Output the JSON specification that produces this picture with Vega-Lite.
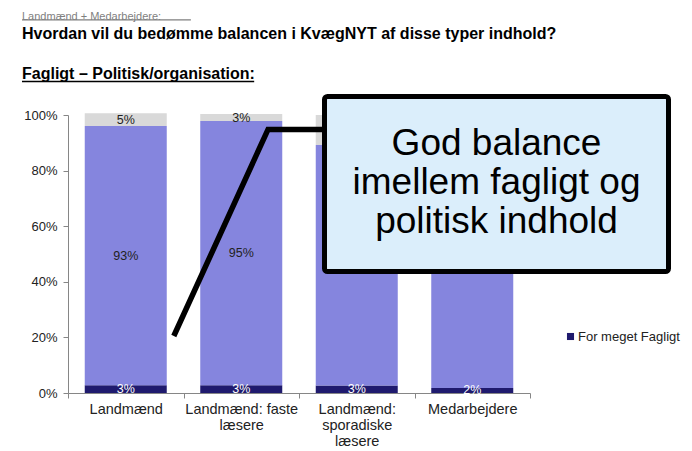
{
  "$schema": "https://vega.github.io/schema/vega-lite/v6.json",
  "width": 462,
  "height": 278,
  "autosize": {"type": "none"},
  "padding": {"left": 68, "top": 115, "right": 162, "bottom": 58},
  "background": "white",
  "config": {
    "view": {"stroke": null},
    "font": "Liberation Sans",
    "axis": {"domainColor": "#868686", "tickColor": "#868686", "labelColor": "#222222", "labelFont": "Liberation Sans", "grid": false}
  },
  "title": {
    "text": "Landmænd + Medarbejdere:",
    "subtitle": ["Hvordan vil du bedømme balancen i KvægNYT af disse typer indhold?", "Fagligt – Politisk/organisation:"],
    "anchor": "start",
    "frame": "group",
    "dx": -46,
    "offset": -63,
    "font": "Liberation Sans",
    "fontSize": 11,
    "fontWeight": "normal",
    "color": "#7f7f7f",
    "subtitleFont": "Liberation Sans",
    "subtitleFontSize": 16,
    "subtitleFontWeight": "bold",
    "subtitleColor": "#000000",
    "subtitleLineHeight": 40,
    "subtitlePadding": 4
  },
  "datasets": {
    "bars": [
      {"group": "Landmænd", "series": "For meget Fagligt", "k": 1, "v": 0.028},
      {"group": "Landmænd", "series": "God balance", "k": 2, "v": 0.932},
      {"group": "Landmænd", "series": "For meget Politik/organisation", "k": 3, "v": 0.046},
      {"group": "Landmænd: faste læsere", "series": "For meget Fagligt", "k": 1, "v": 0.028},
      {"group": "Landmænd: faste læsere", "series": "God balance", "k": 2, "v": 0.95},
      {"group": "Landmænd: faste læsere", "series": "For meget Politik/organisation", "k": 3, "v": 0.026},
      {"group": "Landmænd: sporadiske læsere", "series": "For meget Fagligt", "k": 1, "v": 0.027},
      {"group": "Landmænd: sporadiske læsere", "series": "God balance", "k": 2, "v": 0.865},
      {"group": "Landmænd: sporadiske læsere", "series": "For meget Politik/organisation", "k": 3, "v": 0.108},
      {"group": "Medarbejdere", "series": "For meget Fagligt", "k": 1, "v": 0.018},
      {"group": "Medarbejdere", "series": "God balance", "k": 2, "v": 0.91},
      {"group": "Medarbejdere", "series": "For meget Politik/organisation", "k": 3, "v": 0.072}
    ],
    "connector": [
      {"px": 22.9, "py": 0.205, "step": 1},
      {"px": 43.3, "py": 0.948, "step": 2},
      {"px": 55.5, "py": 0.948, "step": 3}
    ],
    "callout": [
      {"px": 55.52, "px2": 129.98, "py": 1.0665, "py2": 0.437, "note": "God balance\nimellem fagligt og\npolitisk indhold", "cx": 92.75, "cy": 0.897}
    ],
    "underlines": [
      {"px": -9.96, "px2": 26.6, "py": 1.342, "kind": "sub"},
      {"px": -9.96, "px2": 40.3, "py": 1.1205, "kind": "head"}
    ]
  },
  "layer": [
    {
      "data": {"name": "bars"},
      "layer": [
        {
          "mark": {"type": "bar", "width": {"band": 0.71}},
          "encoding": {
            "x": {
              "field": "group", "type": "nominal", "sort": null,
              "scale": {"paddingInner": 0, "paddingOuter": 0},
              "axis": {
                "title": null, "labelAngle": 0, "labelFontSize": 14.5, "labelLineHeight": 16,
                "labelPadding": 4, "tickSize": 5, "tickBand": "extent", "labelBaseline": "top",
                "labelExpr": "datum.value == 'Landmænd: faste læsere' ? ['Landmænd: faste','læsere'] : datum.value == 'Landmænd: sporadiske læsere' ? ['Landmænd:','sporadiske','læsere'] : datum.value"
              }
            },
            "y": {
              "field": "v", "type": "quantitative", "stack": "zero",
              "scale": {"domain": [0, 1], "nice": false},
              "axis": {"title": null, "format": ".0%", "values": [0, 0.2, 0.4, 0.6, 0.8, 1], "labelFontSize": 13, "tickSize": 5, "labelPadding": 6}
            },
            "order": {"field": "k", "type": "quantitative"},
            "color": {
              "field": "series", "type": "nominal",
              "scale": {"domain": ["For meget Fagligt", "God balance", "For meget Politik/organisation"], "range": ["#1f1a6e", "#8585de", "#d9d9d9"]},
              "legend": {
                "values": ["For meget Fagligt"], "title": null, "orient": "none", "legendX": 496, "legendY": 215,
                "symbolType": "square", "symbolSize": 50, "symbolStrokeWidth": 0, "labelFontSize": 13, "labelColor": "#222222",
                "labelOffset": 1, "padding": 0
              }
            }
          }
        },
        {
          "mark": {"type": "text", "fontSize": 12.5, "font": "Liberation Sans", "baseline": "middle"},
          "encoding": {
            "x": {"field": "group", "type": "nominal", "sort": null},
            "y": {"field": "v", "type": "quantitative", "stack": "zero", "bandPosition": 0.5},
            "order": {"field": "k", "type": "quantitative"},
            "text": {"field": "v", "type": "quantitative", "format": ".0%"},
            "color": {"condition": {"test": "datum.series === 'For meget Fagligt'", "value": "#ffffff"}, "value": "#222222"}
          }
        }
      ]
    },
    {
      "layer": [
        {
          "data": {"name": "connector"},
          "mark": {"type": "line", "color": "#000000", "strokeWidth": 5.5, "strokeCap": "butt", "strokeJoin": "miter"},
          "encoding": {
            "x": {"field": "px", "type": "quantitative", "scale": {"domain": [0, 100], "nice": false, "zero": false}, "axis": null},
            "y": {"field": "py", "type": "quantitative"},
            "order": {"field": "step", "type": "quantitative"}
          }
        },
        {
          "data": {"name": "callout"},
          "mark": {"type": "rect", "fill": "#dbeefb", "stroke": "#000000", "strokeWidth": 5, "cornerRadius": 3},
          "encoding": {
            "x": {"field": "px", "type": "quantitative"},
            "x2": {"field": "px2"},
            "y": {"field": "py", "type": "quantitative"},
            "y2": {"field": "py2"}
          }
        },
        {
          "data": {"name": "callout"},
          "mark": {"type": "text", "fontSize": 37, "font": "Liberation Sans", "lineHeight": 39, "lineBreak": "\n", "align": "center", "baseline": "middle", "color": "#000000"},
          "encoding": {
            "x": {"field": "cx", "type": "quantitative"},
            "y": {"field": "cy", "type": "quantitative"},
            "text": {"field": "note"}
          }
        },
        {
          "data": {"name": "underlines"},
          "mark": {"type": "rule", "strokeWidth": 1.4},
          "encoding": {
            "x": {"field": "px", "type": "quantitative"},
            "x2": {"field": "px2"},
            "y": {"field": "py", "type": "quantitative"},
            "color": {"field": "kind", "type": "nominal", "scale": {"domain": ["sub", "head"], "range": ["#7f7f7f", "#000000"]}, "legend": null}
          }
        }
      ]
    }
  ],
  "resolve": {"scale": {"x": "independent", "color": "independent"}}
}
